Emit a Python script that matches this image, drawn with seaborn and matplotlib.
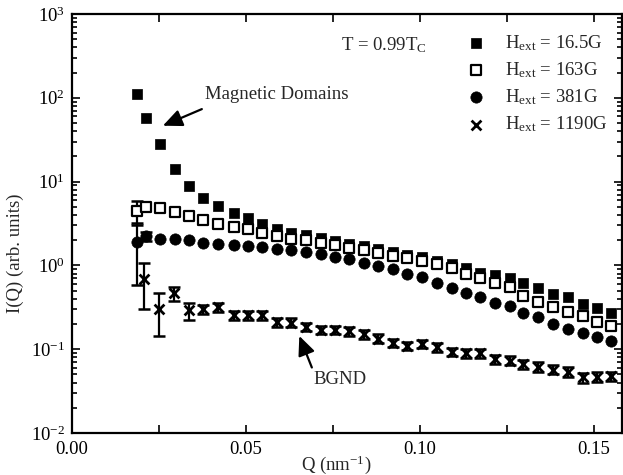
import numpy as np
import pandas as pd
import matplotlib
matplotlib.use("Agg")
import matplotlib.pyplot as plt
import seaborn as sns
from matplotlib.ticker import MultipleLocator, LogLocator, NullFormatter, FormatStrFormatter

# ---------------- data ----------------
q_grid = [0.0186, 0.0213, 0.0253, 0.0295, 0.0336, 0.0377, 0.0420, 0.0464, 0.0505, 0.0545,
          0.0588, 0.0628, 0.0672, 0.0715, 0.0756, 0.0797, 0.0839, 0.0880, 0.0922, 0.0963,
          0.1005, 0.1048, 0.1091, 0.1132, 0.1172, 0.1216, 0.1257, 0.1297, 0.1340, 0.1383,
          0.1426, 0.1468, 0.1508, 0.1548]

i_16_5G = [112, 58, 28.3, 14.3, 8.8, 6.4, 5.15, 4.24, 3.63, 3.13,
           2.74, 2.45, 2.28, 2.10, 1.94, 1.81, 1.69, 1.55, 1.45, 1.33,
           1.25, 1.12, 1.03, 0.94, 0.82, 0.76, 0.71, 0.62, 0.54, 0.46,
           0.42, 0.35, 0.31, 0.27]

i_163G = [4.4, 5.0, 4.87, 4.3, 3.87, 3.46, 3.15, 2.90, 2.69, 2.45,
          2.23, 2.09, 1.99, 1.86, 1.73, 1.62, 1.52, 1.39, 1.31, 1.21,
          1.14, 1.03, 0.94, 0.80, 0.70, 0.61, 0.56, 0.43, 0.37, 0.32,
          0.28, 0.25, 0.21, 0.19]

i_381G = [1.89, 2.23, 2.08, 2.08, 2.0, 1.86, 1.81, 1.75, 1.70, 1.65,
          1.58, 1.52, 1.44, 1.35, 1.27, 1.18, 1.08, 0.98, 0.90, 0.80,
          0.73, 0.62, 0.54, 0.47, 0.42, 0.36, 0.33, 0.27, 0.24, 0.20,
          0.176, 0.158, 0.138, 0.124]

q_1190G = [0.0208, 0.0251, 0.0294, 0.0336, 0.0377, 0.0420, 0.0464, 0.0505, 0.0545,
           0.0588, 0.0628, 0.0672, 0.0715, 0.0756, 0.0797, 0.0839, 0.0880, 0.0922, 0.0963,
           0.1005, 0.1048, 0.1091, 0.1132, 0.1172, 0.1216, 0.1257, 0.1297, 0.1340, 0.1383,
           0.1426, 0.1468, 0.1508, 0.1548]
i_1190G = [0.69, 0.305, 0.47, 0.29, 0.30, 0.32, 0.254, 0.254, 0.254,
           0.211, 0.208, 0.186, 0.170, 0.170, 0.165, 0.151, 0.134, 0.120, 0.110,
           0.115, 0.105, 0.093, 0.090, 0.090, 0.076, 0.073, 0.066, 0.062, 0.057,
           0.054, 0.046, 0.047, 0.048]
e_1190G = [0.39, 0.16, 0.09, 0.065, 0.04, 0.04, 0.03, 0.03, 0.03,
           0.025, 0.025, 0.022, 0.02, 0.02, 0.02, 0.018, 0.016, 0.014, 0.013,
           0.013, 0.012, 0.011, 0.011, 0.011, 0.009, 0.009, 0.008, 0.008, 0.007,
           0.007, 0.006, 0.006, 0.006]

# error bars on first points of other series
err_pts_q = [0.0186, 0.0186, 0.0213]
err_pts_i = [4.4, 1.89, 2.23]
err_pts_e = [1.4, 1.3, 0.25]

labels = [r"H$_{\mathrm{ext}}$ = 16.5G", r"H$_{\mathrm{ext}}$ = 163G",
          r"H$_{\mathrm{ext}}$ = 381G", r"H$_{\mathrm{ext}}$ = 1190G"]

# ---------------- style ----------------
sns.set_style("ticks")
plt.rcParams["font.family"] = ["Liberation Serif", "DejaVu Serif"]
plt.rcParams["mathtext.fontset"] = "custom"
plt.rcParams["mathtext.rm"] = "Liberation Serif"
plt.rcParams["mathtext.it"] = "Liberation Serif:italic"
plt.rcParams["font.size"] = 13
FS = 13.5

W, H = 623, 475
fig = plt.figure(figsize=(W / 100, H / 100), dpi=100)
ax = fig.add_axes([72 / W, 1 - 433 / H, (622 - 72) / W, (433 - 14) / H])

df1 = pd.DataFrame({"Q": q_grid, "I": i_16_5G})
df2 = pd.DataFrame({"Q": q_grid, "I": i_163G})
df3 = pd.DataFrame({"Q": q_grid, "I": i_381G})
df4 = pd.DataFrame({"Q": q_1190G, "I": i_1190G, "e": e_1190G})

# error bars (drawn under markers)
ax.errorbar(df4["Q"], df4["I"], yerr=df4["e"], fmt="none", ecolor="black",
            elinewidth=1.6, capsize=4, capthick=1.8, zorder=2)
ax.errorbar(err_pts_q, err_pts_i, yerr=err_pts_e, fmt="none", ecolor="black",
            elinewidth=1.6, capsize=4, capthick=1.8, zorder=2)

sns.scatterplot(data=df1, x="Q", y="I", ax=ax, marker="s", s=52, color="black",
                edgecolor="black", linewidth=0.5, label=labels[0], zorder=3)
sns.scatterplot(data=df2, x="Q", y="I", ax=ax, marker="s", s=48, facecolor="white",
                edgecolor="black", linewidth=1.6, label=labels[1], zorder=4)
sns.scatterplot(data=df3, x="Q", y="I", ax=ax, marker="o", s=66, color="black",
                edgecolor="black", linewidth=0.5, label=labels[2], zorder=3)
sns.scatterplot(data=df4, x="Q", y="I", ax=ax, marker="x", s=50, color="black",
                linewidth=2.0, label=labels[3], zorder=3)

ax.set_yscale("log")
ax.set_xlim(0, 0.158)
ax.set_ylim(1e-2, 1e3)

# ticks
ax.xaxis.set_major_locator(MultipleLocator(0.05))
ax.xaxis.set_minor_locator(MultipleLocator(0.025))
ax.xaxis.set_major_formatter(FormatStrFormatter("%.2f"))
ax.yaxis.set_major_locator(LogLocator(base=10, numticks=10))
ax.yaxis.set_minor_locator(LogLocator(base=10, subs=np.arange(2, 10), numticks=20))
ax.yaxis.set_minor_formatter(NullFormatter())
ax.tick_params(which="both", direction="in", top=True, right=True, width=1.2, colors="black")
ax.tick_params(which="major", length=6, labelsize=FS)
ax.tick_params(axis="x", which="major", pad=6)
ax.tick_params(axis="y", which="major", pad=5)
ax.tick_params(which="minor", length=3.5)
ax.tick_params(axis="x", which="minor", length=6)
for sp in ax.spines.values():
    sp.set_linewidth(1.6)
    sp.set_color("black")

ax.set_xlabel(r"Q (nm$^{\mathrm{-1}}$)", fontsize=FS)
ax.set_ylabel("I(Q) (arb. units)", fontsize=FS)
ax.xaxis.set_label_coords(0.48, -0.05)
ax.yaxis.set_label_coords(-0.088, 0.43)

# annotations
ax.text(0.0773, 428, r"T = 0.99T$_{\mathrm{C}}$", fontsize=FS, ha="left", va="center")
ax.annotate("", xy=(0.0261, 46.4), xytext=(0.0373, 73.3),
            arrowprops=dict(arrowstyle="-|>,head_length=0.9,head_width=0.4",
                            color="black", lw=1.6, shrinkA=0, shrinkB=0))
ax.text(0.0382, 108, "Magnetic Domains", fontsize=FS, ha="left", va="center")
ax.annotate("", xy=(0.0653, 0.144), xytext=(0.0689, 0.0605),
            arrowprops=dict(arrowstyle="-|>,head_length=0.9,head_width=0.4",
                            color="black", lw=1.6, shrinkA=0, shrinkB=0))
ax.text(0.0770, 0.044, "BGND", fontsize=FS, ha="center", va="center")

leg = ax.legend(loc="upper left", bbox_to_anchor=(467 / W, 1 - 33 / H),
                bbox_transform=fig.transFigure, frameon=False, fontsize=FS,
                handlelength=0.95, handletextpad=1.1, labelspacing=0.4,
                borderpad=0, borderaxespad=0)

fig.savefig("out.png", dpi=100)
